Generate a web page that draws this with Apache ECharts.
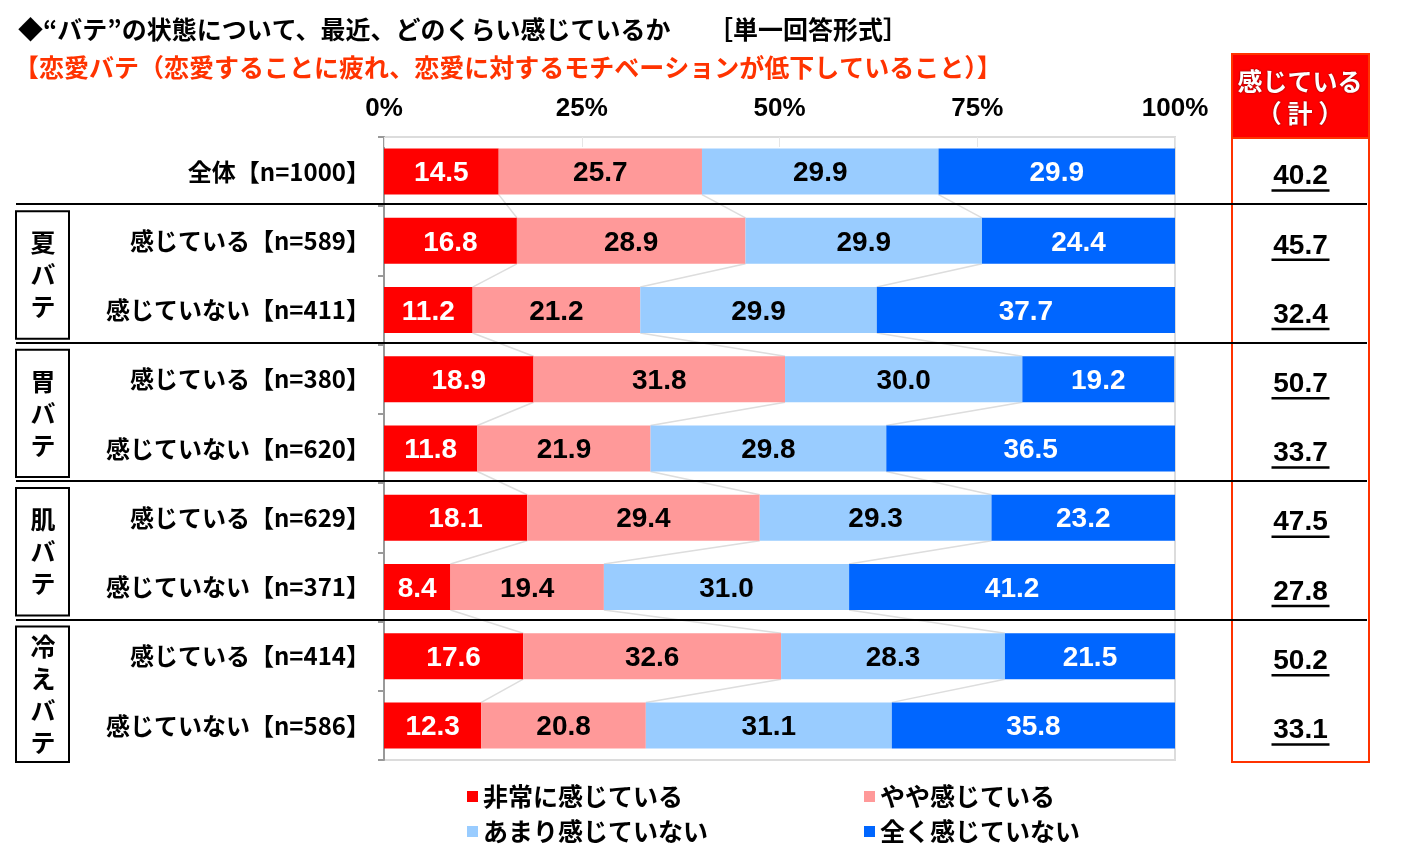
<!DOCTYPE html>
<html>
<head>
<meta charset="utf-8">
<script src="https://cdn.jsdelivr.net/npm/echarts@6/dist/echarts.min.js"></script>
<style>
  html, body { margin: 0; padding: 0; background: #fff; }
  #chart-container { width: 1402px; height: 862px; }
</style>
</head>
<body>
<div id="chart-container"></div>
<script>
// data
const categories = [
    '全体【n=1000】',
    '感じている【n=589】', '感じていない【n=411】',
    '感じている【n=380】', '感じていない【n=620】',
    '感じている【n=629】', '感じていない【n=371】',
    '感じている【n=414】', '感じていない【n=586】'
];
const seriesNames = ['非常に感じている', 'やや感じている', 'あまり感じていない', '全く感じていない'];
const veryMuch = [14.5, 16.8, 11.2, 18.9, 11.8, 18.1, 8.4, 17.6, 12.3];
const somewhat = [25.7, 28.9, 21.2, 31.8, 21.9, 29.4, 19.4, 32.6, 20.8];
const notMuch = [29.9, 29.9, 29.9, 30.0, 29.8, 29.3, 31.0, 28.3, 31.1];
const notAtAll = [29.9, 24.4, 37.7, 19.2, 36.5, 23.2, 41.2, 21.5, 35.8];
const totals = [40.2, 45.7, 32.4, 50.7, 33.7, 47.5, 27.8, 50.2, 33.1];
const xTicks = [0, 25, 50, 75, 100];
const groups = [
    { label: ['夏', 'バ', 'テ'], first: 1, last: 2 },
    { label: ['胃', 'バ', 'テ'], first: 3, last: 4 },
    { label: ['肌', 'バ', 'テ'], first: 5, last: 6 },
    { label: ['冷', 'え', 'バ', 'テ'], first: 7, last: 8 }
];

const colors = ['#FF0000', '#FF9999', '#99CCFF', '#0066FF'];
const labelColors = ['#fff', '#000', '#000', '#fff'];
const numFont = '"Liberation Sans Narrow", "Arial Narrow", "Liberation Sans", Arial, sans-serif';
const jpFont = '"Noto Sans CJK JP", "Noto Sans", sans-serif';

// layout
const gridTop = 137;
const gridHeight = 623;
const gridLeft = 384;
const gridRight = 227;
const barWidth = 46;
const band = gridHeight / categories.length;

var dom = document.getElementById('chart-container');
var myChart = echarts.init(dom);
var option;

const values = [veryMuch, somewhat, notMuch, notAtAll];

// connector rows: cumulative boundaries of row i and row i+1
const connectorData = [];
for (let i = 0; i < categories.length - 1; i++) {
    const row = [i];
    [i, i + 1].forEach(function (r) {
        let c = 0;
        for (let k = 0; k < 3; k++) {
            c += values[k][r];
            row.push(c);
        }
    });
    connectorData.push(row);
}

const renderConnector = function (params, api) {
    const i = api.value(0);
    const children = [];
    for (let k = 0; k < 3; k++) {
        const p1 = api.coord([api.value(1 + k), i]);
        const p2 = api.coord([api.value(4 + k), i + 1]);
        children.push({
            type: 'line',
            shape: { x1: p1[0], y1: p1[1] + barWidth / 2, x2: p2[0], y2: p2[1] - barWidth / 2 },
            style: { stroke: '#dddddd', lineWidth: 1.5 }
        });
    }
    return { type: 'group', children: children };
};

const renderTotal = function (params, api) {
    const p = api.coord([api.value(0), api.value(1)]);
    return {
        type: 'group',
        children: [{
            type: 'text',
            x: p[0],
            y: p[1] + 5,
            style: {
                text: api.value(2).toFixed(1),
                font: 'bold 28px ' + numFont,
                fill: '#000',
                align: 'center',
                verticalAlign: 'middle'
            }
        }, {
            type: 'line',
            shape: { x1: p[0] - 29, y1: p[1] + 19, x2: p[0] + 29, y2: p[1] + 19 },
            style: { stroke: '#000', lineWidth: 2.5 }
        }]
    };
};

const barSeries = seriesNames.map(function (name, k) {
    return {
        name: name,
        type: 'bar',
        stack: 'total',
        barWidth: barWidth,
        data: values[k],
        itemStyle: { color: colors[k] },
        label: {
            show: true,
            position: 'inside',
            offset: [0, 2],
            formatter: function (p) { return p.value.toFixed(1); },
            color: labelColors[k],
            fontFamily: numFont,
            fontWeight: 'bold',
            fontSize: 28
        },
        emphasis: { disabled: true },
        z: 3
    };
});

// decorations
const graphics = [{
    type: 'text',
    left: 18,
    top: 17,
    style: {
        text: '◆“バテ”の状態について、最近、どのくらい感じているか　　［単一回答形式］',
        font: 'bold 25px ' + jpFont,
        fill: '#000'
    }
}, {
    type: 'text',
    left: 14,
    top: 55,
    style: {
        text: '【恋愛バテ（恋愛することに疲れ、恋愛に対するモチベーションが低下していること）】',
        font: 'bold 25px ' + jpFont,
        fill: '#FF3300'
    }
}, {
    type: 'rect',
    shape: { x: 1232, y: 54, width: 137, height: 84 },
    style: { fill: '#FF0000', stroke: '#FF3300', lineWidth: 2 }
}, {
    type: 'rect',
    shape: { x: 1232, y: 54, width: 137, height: 708 },
    style: { fill: 'none', stroke: '#FF3300', lineWidth: 2 },
    z: 10
}, {
    type: 'text',
    x: 1300,
    y: 81,
    style: {
        text: '感じている', font: 'bold 25px ' + jpFont, fill: '#fff',
        align: 'center', verticalAlign: 'middle',
        textShadowColor: 'rgba(0,0,0,0.6)', textShadowBlur: 2
    },
    z: 11
}, {
    type: 'text',
    x: 1300,
    y: 113,
    style: {
        text: '（ 計 ）', font: 'bold 25px ' + jpFont, fill: '#fff',
        align: 'center', verticalAlign: 'middle',
        textShadowColor: 'rgba(0,0,0,0.6)', textShadowBlur: 2
    },
    z: 11
}];

// horizontal separators between groups
[1, 3, 5, 7].forEach(function (n) {
    const y = Math.round(gridTop + n * band) - 2;
    graphics.push({
        type: 'line',
        shape: { x1: 16, y1: y, x2: 1367, y2: y },
        style: { stroke: '#000', lineWidth: 2 },
        z: 12
    });
});

// group boxes with vertical labels
groups.forEach(function (g) {
    const top = gridTop + g.first * band + 5;
    const bottom = gridTop + (g.last + 1) * band - (g.last === categories.length - 1 ? -2 : 6);
    graphics.push({
        type: 'rect',
        shape: { x: 16, y: top, width: 53, height: bottom - top },
        style: { fill: '#fff', stroke: '#000', lineWidth: 2 },
        z: 12
    });
    const step = 32;
    const mid = (top + bottom) / 2;
    g.label.forEach(function (ch, j) {
        graphics.push({
            type: 'text',
            x: 43,
            y: mid + (j - (g.label.length - 1) / 2) * step,
            style: {
                text: ch, font: 'bold 25px ' + jpFont, fill: '#000',
                align: 'center', verticalAlign: 'middle'
            },
            z: 13
        });
    });
});

const legendPos = [[462, 779], [859, 779], [462, 814], [859, 814]];
const legends = seriesNames.map(function (name, k) {
    return {
        data: [name],
        left: legendPos[k][0],
        top: legendPos[k][1],
        icon: 'rect',
        itemWidth: 11,
        itemHeight: 11,
        itemGap: 0,
        selectedMode: false,
        textStyle: { fontSize: 25, fontWeight: 'bold', fontFamily: jpFont, color: '#000', padding: [0, 0, 0, 0] }
    };
});

option = {
    animation: false,
    textStyle: { fontFamily: jpFont },
    legend: legends,
    grid: [{
        left: gridLeft,
        right: gridRight,
        top: gridTop,
        height: gridHeight,
        show: true,
        borderColor: '#dcdcdc',
        borderWidth: 2
    }, {
        left: 1232,
        width: 137,
        top: gridTop,
        height: gridHeight
    }],
    xAxis: [{
        type: 'value',
        gridIndex: 0,
        position: 'top',
        min: xTicks[0],
        max: xTicks[xTicks.length - 1],
        interval: xTicks[1] - xTicks[0],
        axisLine: { show: false },
        axisTick: { show: true, inside: true, length: 10, lineStyle: { color: '#e6e6e6' } },
        splitLine: { show: false },
        axisLabel: {
            formatter: '{value}%',
            margin: 15,
            fontSize: 26,
            fontWeight: 'bold',
            fontFamily: numFont,
            color: '#000'
        }
    }, {
        type: 'value',
        gridIndex: 1,
        min: 0,
        max: 1,
        show: false
    }],
    yAxis: [{
        type: 'category',
        gridIndex: 0,
        inverse: true,
        data: categories,
        axisLine: { show: true, lineStyle: { color: '#999', width: 2 } },
        axisTick: { show: true, length: 6, lineStyle: { color: '#999', width: 2 } },
        axisLabel: {
            margin: 14,
            fontSize: 24,
            fontWeight: 'bold',
            fontFamily: jpFont,
            color: '#000'
        }
    }, {
        type: 'category',
        gridIndex: 1,
        inverse: true,
        data: categories,
        show: false
    }],
    series: barSeries.concat([{
        type: 'custom',
        name: 'connector',
        xAxisIndex: 0,
        yAxisIndex: 0,
        renderItem: renderConnector,
        data: connectorData,
        encode: { x: 1, y: 0 },
        silent: true,
        z: 2
    }, {
        type: 'custom',
        name: 'total',
        xAxisIndex: 1,
        yAxisIndex: 1,
        renderItem: renderTotal,
        data: totals.map(function (v, i) { return [0.5, i, v]; }),
        encode: { x: 0, y: 1 },
        silent: true,
        z: 5
    }]),
    graphic: graphics
};

myChart.setOption(option);
</script>
</body>
</html>
